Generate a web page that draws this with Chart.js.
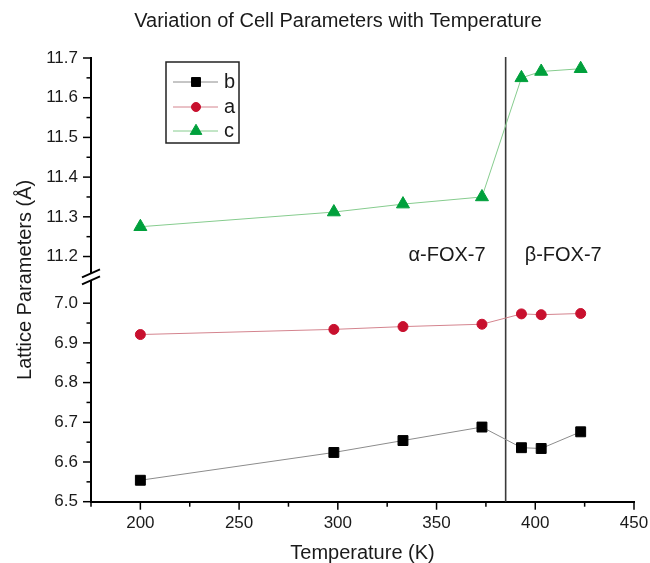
<!DOCTYPE html>
<html><head><meta charset="utf-8">
<script src="https://cdn.jsdelivr.net/npm/chart.js@4/dist/chart.umd.min.js"></script>
<style>html,body{margin:0;padding:0;background:#fff}#wrap{width:650px;height:563px}</style>
</head><body><div id="wrap"><canvas id="c" width="650" height="563"></canvas></div>
<script>
// ---- data ----
const temperatures = [200, 298, 333, 373, 393, 403, 423];
const latticeB = [6.554, 6.624, 6.654, 6.688, 6.636, 6.634, 6.676];
const latticeA = [6.921, 6.934, 6.941, 6.947, 6.973, 6.971, 6.974];
const latticeC = [11.275, 11.312, 11.332, 11.350, 11.650, 11.666, 11.673];
const seriesNames = ['b', 'a', 'c'];
const lowerRange = [6.5, 7.0];
const upperRange = [11.2, 11.7];
const yTickStep = 0.1;
const xRange = [175, 450];
const xTickStep = 50;
const transitionT = 385;
const phaseLabels = ['\u03b1-FOX-7', '\u03b2-FOX-7'];
const chartTitle = 'Variation of Cell Parameters with Temperature';
const xTitle = 'Temperature (K)';
const yTitle = 'Lattice Parameters (\u00c5)';

// ---- broken-axis mapping ----
const FAM = '"Liberation Sans", Arial, Helvetica, sans-serif';
const TXT = '#1a1a1a';
const SEG = lowerRange[1] - lowerRange[0];
const GAP = 0.1175;
const toAxis = v => v > (lowerRange[1] + upperRange[0]) / 2 ? v - upperRange[0] + SEG + GAP : v - lowerRange[0];
const fromAxis = t => t > SEG + GAP / 2 ? t - SEG - GAP + upperRange[0] : t + lowerRange[0];
const series = vals => temperatures.map((t, i) => ({x: t, y: toAxis(vals[i])}));

const styles = [
  {line: '#8c8c8c', fill: '#000000', pt: 'rect', r: 7},
  {line: '#d4848e', fill: '#c8102e', pt: 'circle', r: 5},
  {line: '#86cc8e', fill: '#00a03c', pt: 'triangle', r: 7.5}
];
const values = [latticeB, latticeA, latticeC];

const datasets = values.map((v, i) => ({
  label: seriesNames[i],
  data: series(v),
  borderColor: styles[i].line,
  borderWidth: 1,
  pointStyle: styles[i].pt,
  pointRadius: styles[i].r,
  pointHoverRadius: styles[i].r,
  pointBackgroundColor: styles[i].fill,
  pointBorderColor: styles[i].fill,
  pointBorderWidth: 1,
  tension: 0,
  fill: false
}));

const overlay = {
  id: 'overlay',
  beforeDatasetsDraw(chart) {
    const {ctx, chartArea, scales: {x}} = chart;
    const px = x.getPixelForValue(transitionT);
    ctx.save();
    ctx.strokeStyle = '#3a3a3a';
    ctx.lineWidth = 1.6;
    ctx.beginPath();
    ctx.moveTo(px, chartArea.top - 1);
    ctx.lineTo(px, chartArea.bottom);
    ctx.stroke();
    ctx.restore();
  },
  afterDraw(chart) {
    const {ctx, chartArea, scales: {x, y}} = chart;
    ctx.save();
    ctx.strokeStyle = '#000';
    ctx.lineWidth = 1.5;
    // y tick marks
    y.ticks.forEach(t => {
      const py = y.getPixelForValue(t.value);
      const len = t.minor ? 4.5 : 8;
      ctx.beginPath();
      ctx.moveTo(chartArea.left - len, py);
      ctx.lineTo(chartArea.left, py);
      ctx.stroke();
    });
    // x tick marks
    x.ticks.forEach(t => {
      const px = x.getPixelForValue(t.value);
      const len = (t.value % xTickStep === 0) ? 8 : 5;
      ctx.beginPath();
      ctx.moveTo(px, chartArea.bottom);
      ctx.lineTo(px, chartArea.bottom + len);
      ctx.stroke();
    });
    // axis break
    const mid = y.getPixelForValue(SEG + GAP / 2) - 3;
    const ax = chartArea.left;
    ctx.fillStyle = '#fff';
    ctx.fillRect(ax - 3, mid - 3.5, 6, 7);
    ctx.lineWidth = 1.8;
    [-3.5, 3.5].forEach(d => {
      ctx.beginPath();
      ctx.moveTo(ax - 9, mid + d + 4);
      ctx.lineTo(ax + 9, mid + d - 4);
      ctx.stroke();
    });
    // phase labels
    const vx = x.getPixelForValue(transitionT);
    const ly = y.getPixelForValue(toAxis(upperRange[0])) - 1;
    ctx.fillStyle = TXT;
    ctx.font = '20px ' + FAM;
    ctx.textBaseline = 'middle';
    ctx.textAlign = 'right';
    ctx.fillText(phaseLabels[0], vx - 20, ly);
    ctx.textAlign = 'left';
    ctx.fillText(phaseLabels[1], vx + 19, ly);
    // title
    ctx.textAlign = 'center';
    ctx.fillText(chartTitle, 338, 21.5);
    // legend
    const bx = 166, by = 62, bw = 73, bh = 81;
    ctx.strokeStyle = '#222';
    ctx.lineWidth = 1.5;
    ctx.strokeRect(bx, by, bw, bh);
    const rows = [82, 107, 131];
    chart.data.datasets.forEach((ds, i) => {
      const ry = rows[i];
      ctx.strokeStyle = ds.borderColor;
      ctx.lineWidth = 1;
      ctx.beginPath();
      ctx.moveTo(173, ry);
      ctx.lineTo(218, ry);
      ctx.stroke();
      ctx.fillStyle = ds.pointBackgroundColor;
      ctx.strokeStyle = ds.pointBorderColor;
      Chart.helpers.drawPoint(ctx, {pointStyle: ds.pointStyle, radius: ds.pointRadius * 0.9, rotation: 0, borderWidth: 1}, 196, ry);
      ctx.fillStyle = TXT;
      ctx.textAlign = 'left';
      ctx.font = '20px ' + FAM;
      ctx.fillText(ds.label, 224, ry);
    });
    ctx.restore();
  }
};

new Chart(document.getElementById('c'), {
  type: 'line',
  data: {datasets},
  options: {
    responsive: false,
    animation: false,
    devicePixelRatio: 1,
    layout: {padding: {top: 58, right: 0, bottom: 0, left: 0}},
    plugins: {legend: {display: false}, title: {display: false}, tooltip: {enabled: false}},
    scales: {
      x: {
        type: 'linear', min: xRange[0], max: xRange[1],
        afterFit: s => { s.height = 61.3; s.paddingRight = 16; },
        grid: {display: false, drawTicks: false},
        border: {display: true, color: '#000', width: 2},
        ticks: {stepSize: 25, autoSkip: false, maxRotation: 0, padding: 11, color: TXT,
          font: {size: 17, family: FAM},
          callback: v => (v % xTickStep === 0 ? String(v) : '')},
        title: {display: true, text: xTitle, color: TXT, font: {size: 20, family: FAM}, padding: {top: 0, bottom: -2}}
      },
      y: {
        type: 'linear', min: 0, max: 2 * SEG + GAP,
        afterBuildTicks: s => {
          const t = [];
          const n = Math.round(SEG / (yTickStep / 2));
          [0, SEG + GAP].forEach(base => {
            for (let k = 0; k <= n; k++) t.push({value: base + k * yTickStep / 2, minor: k % 2 === 1});
          });
          s.ticks = t;
        },
        afterFit: s => { s.width = 91; },
        grid: {display: false, drawTicks: false},
        border: {display: true, color: '#000', width: 2},
        ticks: {autoSkip: false, padding: 13, color: TXT, font: {size: 17, family: FAM},
          callback: (v, i, ts) => (ts[i] && ts[i].minor ? '' : fromAxis(v).toFixed(1))},
        title: {display: true, text: yTitle, color: TXT, font: {size: 20, family: FAM}, padding: {top: 13, bottom: 0}}
      }
    }
  },
  plugins: [overlay]
});
</script></body></html>
